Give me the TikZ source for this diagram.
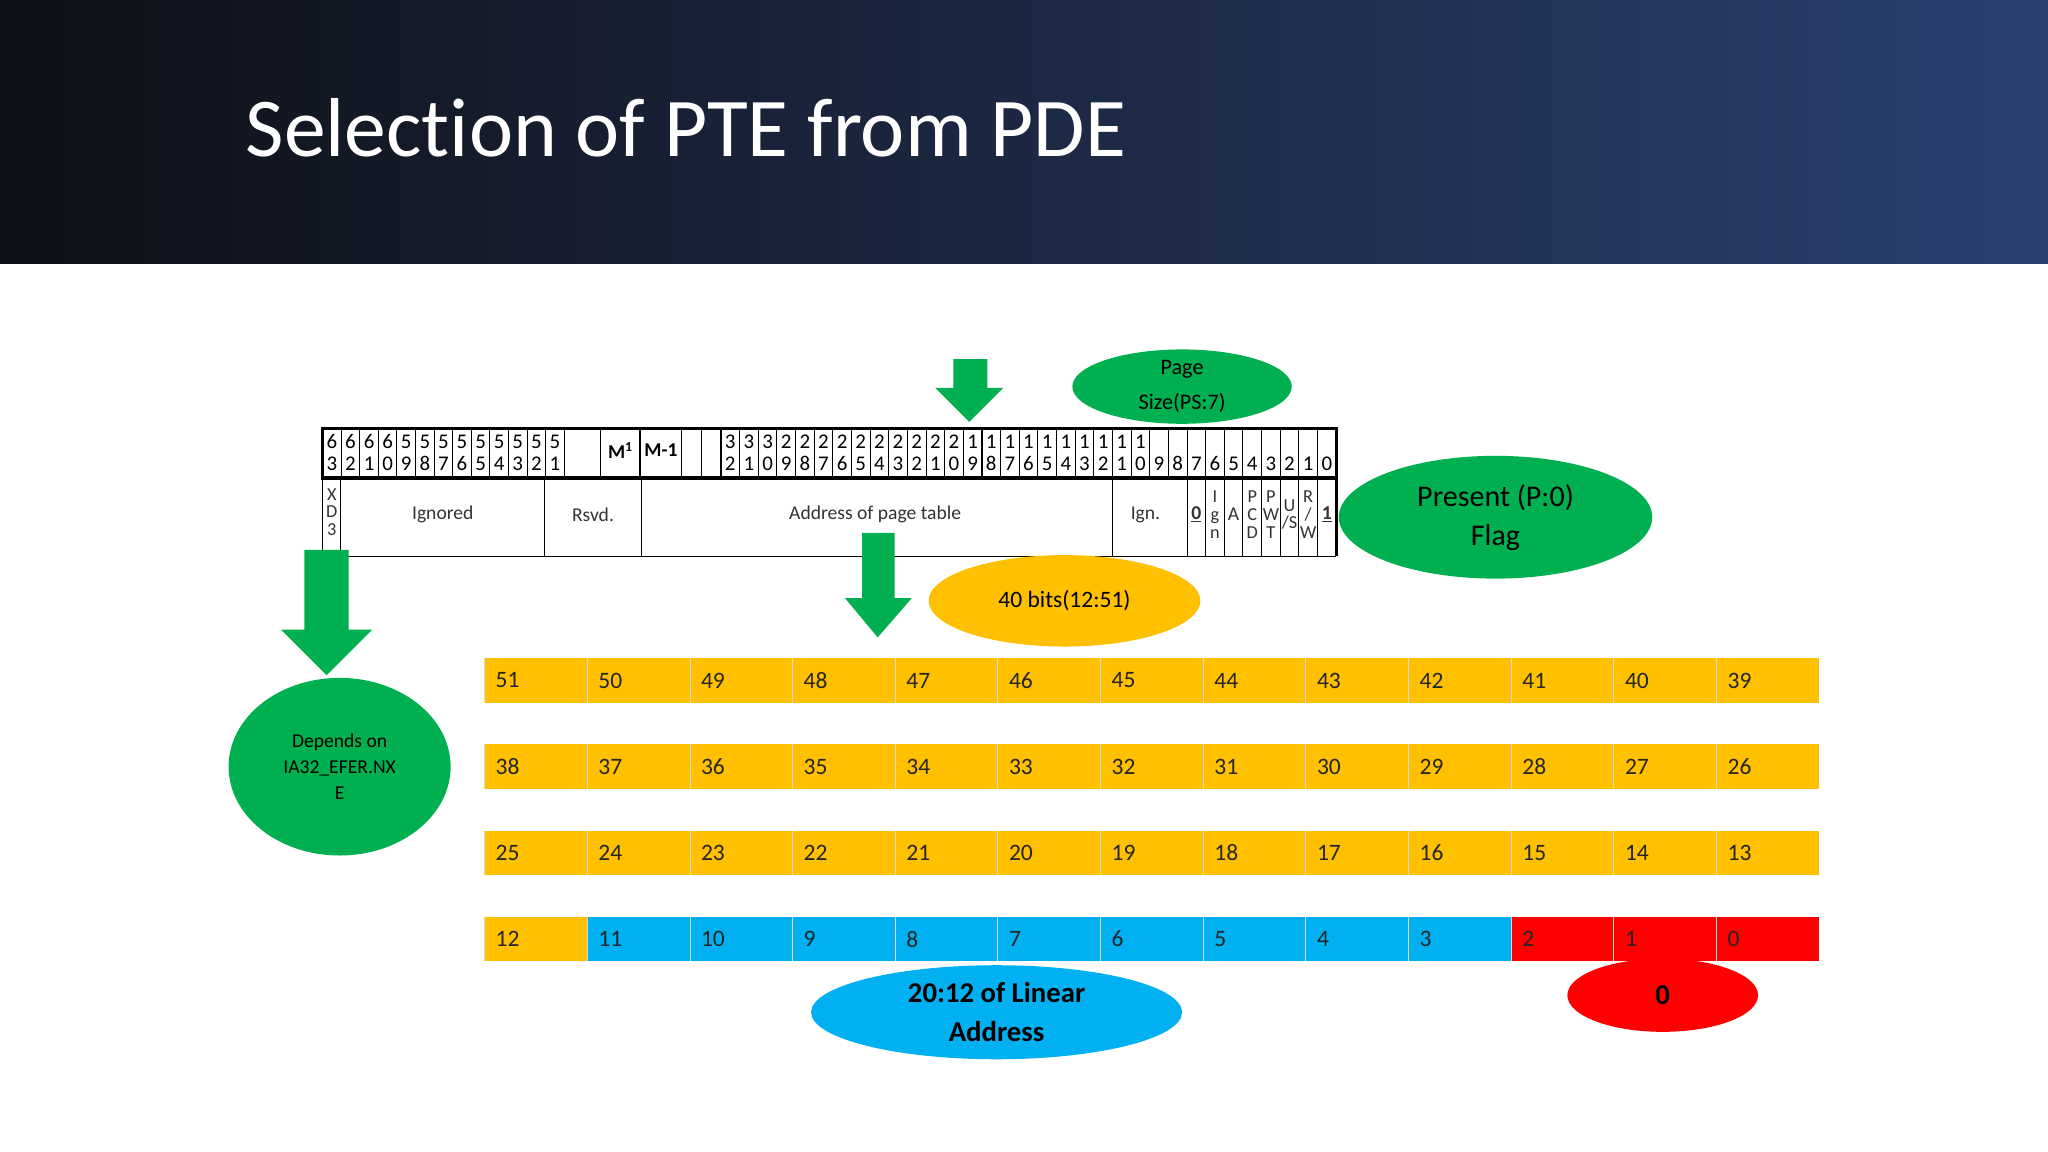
\documentclass[tikz,border=0pt]{standalone}
\usepackage{fontspec}
\setmainfont{Carlito}[Ligatures=NoCommon]
\usetikzlibrary{shapes.geometric}
\definecolor{gr}{RGB}{0,176,80}
\definecolor{org}{RGB}{255,192,0}
\definecolor{blu}{RGB}{0,176,240}
\definecolor{rd}{RGB}{255,0,0}
\definecolor{hdL}{RGB}{14,16,22}
\definecolor{hdR}{RGB}{42,64,112}
\tikzset{
  ell/.style={ellipse,inner sep=0pt,align=center,font=\fontsize{18}{22}\selectfont},
  cellnum/.style={anchor=west,font=\fontsize{18}{20}\selectfont,text=black!85},
  dig/.style={font=\fontsize{16}{16}\selectfont,inner sep=0pt},
  regtxt/.style={font=\fontsize{15}{15}\selectfont,inner sep=0pt,text=black!80},
  vtxt/.style={font=\fontsize{14}{13.5}\selectfont,inner sep=0pt,align=center,text=black!80}
}
\begin{document}
\begin{tikzpicture}[x=1pt,y=-1pt]
\useasboundingbox (0,0) rectangle (1568,882);
\fill[white] (0,0) rectangle (1568,882);
\shade[left color=hdL,right color=hdR] (0,0) rectangle (1568,202);
\node[anchor=base west,text=white,font=\fontsize{64}{70}\selectfont,inner sep=0pt] (title) at (188,120) {Selection of PTE from PDE};

% register
\def\W{14.2727}
\draw[line width=2.5pt] (247,328) rectangle (1023,366);
\draw[line width=1.2pt] (247,366) -- (247,426);
\draw[line width=2.5pt] (1023,366) -- (1023,426);
\draw[line width=0.8pt] (247,426) -- (1023,426);
\foreach \k in {0,...,12}{
  \pgfmathtruncatemacro{\b}{63-\k}
  \pgfmathtruncatemacro{\t}{int(\b/10)}
  \pgfmathtruncatemacro{\u}{\b-10*\t}
  \pgfmathsetmacro{\xa}{247+\k*14.23}
  \draw[line width=0.8pt] (\xa,328) -- (\xa,366);
  \node[dig] (h\b) at (\xa+7.1,338) {\t};
  \node[dig] (l\b) at (\xa+7.1,355) {\u};
}
\foreach \xa in {432,460,490,522,537,552}{\draw[line width=0.8pt] (\xa,328) -- (\xa,366);}
\node[font=\bfseries\fontsize{15}{15}\selectfont] (M) at (475,345) {M$^{\mathbf 1}$};
\node[font=\bfseries\fontsize{15}{15}\selectfont] (M1) at (506,345) {M-1};
\foreach \b in {0,...,32}{
  \pgfmathsetmacro{\xa}{552+(32-\b)*\W}
  \pgfmathtruncatemacro{\t}{int(\b/10)}
  \pgfmathtruncatemacro{\u}{\b-10*\t}
  \draw[line width=0.8pt] (\xa,328) -- (\xa,366);
  \ifnum\b>9 \node[dig] (hh\b) at (\xa+7.1,338) {\t}; \fi
  \node[dig] (ll\b) at (\xa+7.1,355) {\u};
}
\foreach \xa in {261,417,491,851.7}{\draw[line width=0.8pt] (\xa,366) -- (\xa,426);}
\foreach \b in {7,...,0}{\pgfmathsetmacro{\xa}{552+(32-\b)*\W}\draw[line width=0.8pt] (\xa,366) -- (\xa,426);}
\node[vtxt] (xd) at (254,392) {X\\D\\3};
\node[regtxt] (ign) at (339,394) {Ignored};
\node[regtxt] (rsvd) at (454,394) {Rsvd.};
\node[regtxt] (addr) at (670,394) {Address of page table};
\node[regtxt] (ign2) at (877,394) {Ign.};
\def\bx#1{552+(32-#1)*\W+7.1}
\node[regtxt,font=\bfseries\fontsize{15}{15}\selectfont] (b7) at ({\bx{7}},394) {\underline{0}};
\node[vtxt] (b6) at ({\bx{6}},394) {I\\g\\n};
\node[regtxt] (b5) at ({\bx{5}},394) {A};
\node[vtxt] (b4) at ({\bx{4}},394) {P\\C\\D};
\node[vtxt] (b3) at ({\bx{3}},394) {P\\W\\T};
\node[vtxt] (b2) at ({\bx{2}},394) {U\\/S};
\node[vtxt] (b1) at ({\bx{1}},394) {R\\/\\W};
\node[regtxt,font=\bfseries\fontsize{15}{15}\selectfont] (b0) at ({\bx{0}},394) {\underline{1}};

% arrows
\fill[gr] (730,275) -- (756,275) -- (756,297) -- (768,297) -- (742,323) -- (716,297) -- (730,297) -- cycle;
\fill[gr] (660,408) -- (685,408) -- (685,458) -- (698,458) -- (672,488) -- (647,458) -- (660,458) -- cycle;
\fill[gr] (233,421) -- (267,421) -- (267,482) -- (285,482) -- (250,517) -- (215,482) -- (233,482) -- cycle;

% ellipses
\node[ell,fill=gr,minimum width=168,minimum height=50,font=\fontsize{17}{27}\selectfont] (ps) at (905,296) {Page\\Size(PS:7)};
\node[ell,fill=gr,minimum width=240,minimum height=94,font=\fontsize{23}{30}\selectfont] (pf) at (1145,396) {Present (P:0)\\Flag};
\node[ell,fill=gr,minimum width=170,minimum height=136,font=\fontsize{15}{20}\selectfont] (nx) at (260,587) {Depends on\\IA32\_EFER.NX\\E};
\node[ell,fill=org,minimum width=208,minimum height=70] (fb) at (815,460) {40 bits(12:51)};

% rows
\foreach \r/\ya in {0/504,1/570,2/636,3/702}{
  \foreach \c in {0,...,12}{
    \pgfmathtruncatemacro{\n}{51-13*\r-\c}
    \pgfmathsetmacro{\xa}{371+\c*78.6}
    \ifnum\n<3 \def\cc{rd}\else\ifnum\n<12 \def\cc{blu}\else\def\cc{org}\fi\fi
    \fill[\cc] (\xa,\ya) rectangle ++(78.6,34);
    \draw[white!85!black,line width=0.6pt] (\xa,\ya) -- ++(0,34);
    \node[cellnum] (n\n) at (\xa+5,\ya+17) {\n};
  }
}
\node[ell,fill=blu,minimum width=284,minimum height=72,font=\bfseries\fontsize{22}{30}\selectfont] (la) at (763,775) {20:12 of Linear\\Address};
\node[ell,fill=rd,minimum width=146,minimum height=56,font=\bfseries\fontsize{22}{26}\selectfont] (z) at (1273,762) {0};
\end{tikzpicture}
\end{document}
